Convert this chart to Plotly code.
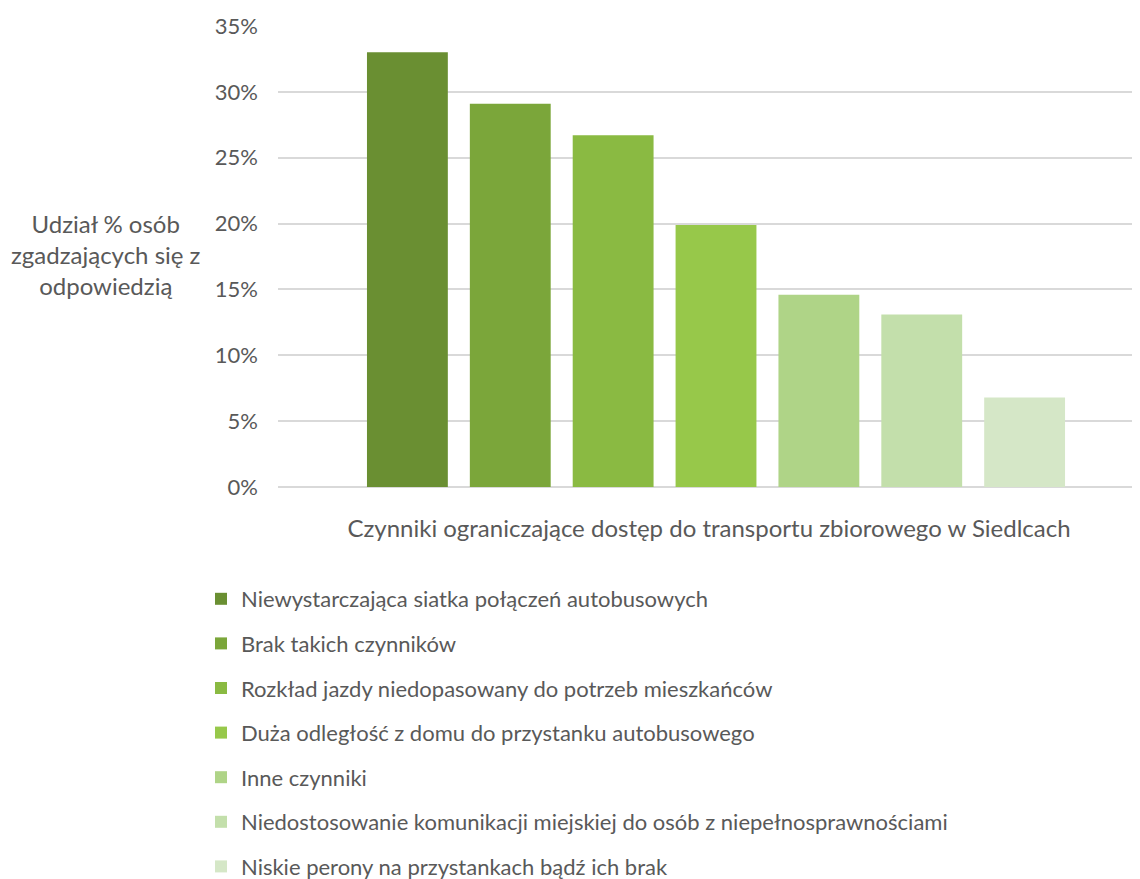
import plotly.graph_objects as go

series_names = [
    "Niewystarczająca siatka połączeń autobusowych",
    "Brak takich czynników",
    "Rozkład jazdy niedopasowany do potrzeb mieszkańców",
    "Duża odległość z domu do przystanku autobusowego",
    "Inne czynniki",
    "Niedostosowanie komunikacji miejskiej do osób z niepełnosprawnościami",
    "Niskie perony na przystankach bądź ich brak",
]
values = [0.330, 0.291, 0.267, 0.199, 0.146, 0.131, 0.068]
colors = ["#6a8f32", "#7ba63a", "#8aba42", "#97c84a", "#afd487", "#c3dfab", "#d5e7c7"]
category = [""]

FONT = "Lato"
GREY = "#595959"

W, H = 1132, 871
L, T, B = 270, 18, 392
PH = H - T - B
PW = W - L

fig = go.Figure()
for i, (name, v, c) in enumerate(zip(series_names, values, colors)):
    fig.add_trace(go.Bar(
        x=category, y=[v], name=name, marker=dict(color=c, line=dict(width=0)),
        legendgroup=f"g{i}", hovertemplate="%{y:.1%}<extra>" + name + "</extra>",
    ))

fig.update_layout(
    width=W, height=H,
    margin=dict(l=L, r=0, t=T, b=B, autoexpand=False),
    paper_bgcolor="white", plot_bgcolor="white",
    barmode="group", bargap=0.178, bargroupgap=0.214,
    font=dict(family=FONT, color=GREY, size=22),
    showlegend=True,
    legend=dict(
        orientation="v", xref="container", yref="container",
        x=193 / W, xanchor="left", y=1 - 570 / H, yanchor="top",
        traceorder="grouped", tracegroupgap=13,
        font=dict(family=FONT, size=22, color=GREY),
        itemwidth=30, bgcolor="rgba(0,0,0,0)",
    ),
    xaxis=dict(
        range=[-0.5, 0.484], showticklabels=False, showgrid=False, zeroline=False,
        showline=False, ticks="", automargin=False,
        title=dict(text="Czynniki ograniczające dostęp do transportu zbiorowego w Siedlcach",
                   font=dict(family=FONT, size=24, color=GREY), standoff=33),
    ),
    yaxis=dict(
        range=[0, 0.35], dtick=0.05, tickformat=".0%", automargin=False,
        showgrid=True, gridcolor="#d9d9d9", gridwidth=1.5,
        zeroline=True, zerolinecolor="#d9d9d9", zerolinewidth=1.5,
        showline=False, ticks="", ticklabelstandoff=19,
        tickfont=dict(family=FONT, size=22, color=GREY),
    ),
    annotations=[dict(
        text="Udział % osób<br>zgadzających się z<br>odpowiedzią",
        xref="paper", yref="paper", x=(98 - L) / PW, y=(T + PH - 246) / PH,
        xanchor="center", yanchor="middle", showarrow=False, align="center",
        font=dict(family=FONT, size=24, color=GREY),
    )],
)

fig.write_html("out.html")
